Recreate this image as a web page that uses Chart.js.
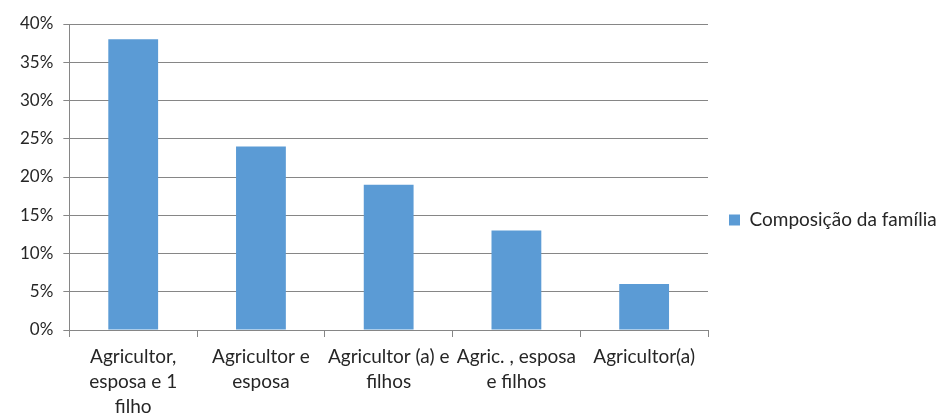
<!DOCTYPE html>
<html>
<head>
<meta charset="utf-8">
<script src="https://cdn.jsdelivr.net/npm/chart.js@4.4.0/dist/chart.umd.min.js"></script>
<style>
  html, body { margin: 0; padding: 0; background: #fff; }
  #wrap { width: 939px; height: 416px; }
</style>
</head>
<body>
<div id="wrap"><canvas id="chart" width="939" height="416"></canvas></div>
<script>
const categories = [
  ['Agricultor,', 'esposa e 1', 'filho'],
  ['Agricultor e', 'esposa'],
  ['Agricultor (a) e', 'filhos'],
  ['Agric. , esposa', 'e filhos'],
  ['Agricultor(a)']
]
const seriesName = 'Composição da família'
const values = [38, 24, 19, 13, 6]
const tickValues = [0, 5, 10, 15, 20, 25, 30, 35, 40]

const gridColor = '#868686'
const textColor = '#262626'
const barColor = '#5b9bd5'

// legend box narrower than its padding would make it, so the gap sits left of the key
const legendWidth = {
  id: 'legendWidth',
  beforeUpdate(chart) {
    const lg = chart.legend
    if (!lg || lg._widthPatched) return
    const fit = lg.fit
    lg.fit = function () { fit.call(this); this.width = 231 }
    lg._widthPatched = true
  }
}

const chart = new Chart(document.getElementById('chart'), {
  type: 'bar',
  data: {
    labels: categories,
    datasets: [{
      label: seriesName,
      data: values,
      backgroundColor: barColor,
      borderWidth: 0,
      categoryPercentage: 1,
      barPercentage: 0.39
    }]
  },
  options: {
    responsive: false,
    animation: false,
    layout: { padding: { top: 24, left: 10, right: 0, bottom: 0 } },
    plugins: {
      tooltip: { enabled: false },
      legend: {
        position: 'right',
        labels: {
          boxWidth: 11,
          boxHeight: 11,
          padding: 21,
          color: textColor,
          font: { family: 'Lato', size: 19 }
        }
      }
    },
    scales: {
      x: {
        // the last label line runs to the bottom edge, as in the original
        afterFit: s => { s.height = 86 },
        grid: {
          offset: true,
          drawOnChartArea: false,
          drawTicks: true,
          tickLength: 7,
          color: gridColor
        },
        border: { display: true, color: gridColor },
        ticks: {
          color: textColor,
          maxRotation: 0,
          autoSkip: false,
          padding: 7,
          font: { family: 'Lato', size: 19, lineHeight: 1.32 }
        }
      },
      y: {
        min: 0,
        max: 40,
        afterBuildTicks: axis => { axis.ticks = tickValues.map(v => ({ value: v })) },
        grid: {
          color: gridColor,
          tickLength: 6
        },
        border: { display: true, color: gridColor },
        ticks: {
          color: textColor,
          padding: 10,
          font: { family: 'Lato', size: 17 },
          callback: v => v + '%'
        }
      }
    }
  },
  plugins: [legendWidth]
})
</script>
</body>
</html>
